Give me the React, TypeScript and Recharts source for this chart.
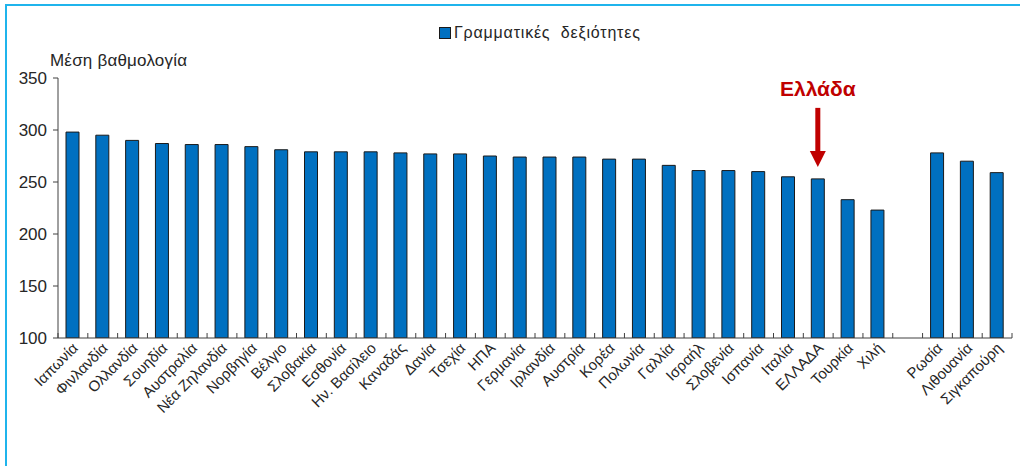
import { BarChart, Bar, XAxis, YAxis, LabelList } from 'recharts';

// ── Data ────────────────────────────────────────────────────
const countries = [
  'Ιαπωνία', 'Φινλανδία', 'Ολλανδία', 'Σουηδία', 'Αυστραλία', 'Νέα Ζηλανδία',
  'Νορβηγία', 'Βέλγιο', 'Σλοβακία', 'Εσθονία', 'Ην. Βασίλειο', 'Καναδάς',
  'Δανία', 'Τσεχία', 'ΗΠΑ', 'Γερμανία', 'Ιρλανδία', 'Αυστρία', 'Κορέα',
  'Πολωνία', 'Γαλλία', 'Ισραήλ', 'Σλοβενία', 'Ισπανία', 'Ιταλία', 'ΕΛΛΑΔΑ',
  'Τουρκία', 'Χιλή', '', 'Ρωσία', 'Λιθουανία', 'Σιγκαπούρη',
];
const scores: (number | null)[] = [
  298, 295, 290, 287, 286, 286,
  284, 281, 279, 279, 279, 278,
  277, 277, 275, 274, 274, 274, 272,
  272, 266, 261, 261, 260, 255, 253,
  233, 223, null, 278, 270, 259,
];
const yTicks = [100, 150, 200, 250, 300, 350];
const highlight = 'ΕΛΛΑΔΑ';

const data = countries.map((c, i) => ({ name: c, score: scores[i] }));

// ── Style ───────────────────────────────────────────────────
const FONT = "'Liberation Sans', Arial, sans-serif";
const BAR_FILL = '#0070c0';
const AXIS = '#404040';
const TEXT = '#262626';
const RED = '#c00000';
const W = 1020;
const H = 466;
const LEFT = 58;
const RIGHT = 8;
const BAND = (W - LEFT - RIGHT) / countries.length;

function CountryTick(props: any) {
  const { x, y, payload, index } = props;
  const lx = x - BAND / 2;
  const rx = x + BAND / 2;
  const tx = x + 6;
  const ty = y + 11;
  return (
    <g>
      <line x1={lx} x2={lx} y1={y} y2={y - 5} stroke={AXIS} />
      {index === countries.length - 1 && <line x1={rx} x2={rx} y1={y} y2={y - 5} stroke={AXIS} />}
      {payload.value && (
        <text x={tx} y={ty} textAnchor="end" fontSize={15} fontFamily={FONT} fill={TEXT}
          transform={`rotate(-45 ${tx} ${ty})`}>
          {payload.value}
        </text>
      )}
    </g>
  );
}

function GreeceMarker(props: any) {
  const { x, y, width, value } = props;
  if (value !== highlight) return null;
  const cx = x + width / 2;
  const tip = y - 12;
  return (
    <g>
      <rect x={cx - 2.5} y={tip - 59} width={5} height={45} fill={RED} />
      <polygon points={`${cx - 8},${tip - 16} ${cx + 8},${tip - 16} ${cx},${tip}`} fill={RED} />
      <text x={cx} y={tip - 71} textAnchor="middle" fontSize={21} fontWeight="bold" fontFamily={FONT} fill={RED}>
        Ελλάδα
      </text>
    </g>
  );
}

export default function App() {
  return (
    <div style={{ position: 'fixed', left: 0, top: 0, width: W, height: H, overflow: 'hidden', background: '#fff', fontFamily: FONT }}>
      <div style={{ position: 'absolute', left: 5, top: 4, width: W + 20, height: H + 20, borderLeft: '2px solid #1fb4ec', borderTop: '2px solid #1fb4ec' }} />
      <div style={{ position: 'absolute', left: 439, top: 24, display: 'flex', alignItems: 'center', gap: 3, fontSize: 16, color: TEXT }}>
        <span style={{ width: 10, height: 10, background: BAR_FILL, border: '1px solid #1a1a1a', display: 'inline-block' }} />
        <span style={{ letterSpacing: 0.8 }}>Γραμματικές&nbsp; δεξιότητες</span>
      </div>
      <div style={{ position: 'absolute', left: 50, top: 51, fontSize: 17, color: TEXT, letterSpacing: 0.2 }}>Μέση βαθμολογία</div>
      <div style={{ position: 'absolute', left: 0, top: 0 }}>
        <BarChart width={W} height={H} data={data} margin={{ top: 78, right: RIGHT, bottom: 98, left: 0 }} barCategoryGap={0}>
          <XAxis dataKey="name" interval={0} height={30} tick={<CountryTick />} tickLine={false} tickSize={0} tickMargin={0}
            axisLine={{ stroke: AXIS }} />
          <YAxis width={LEFT} domain={[100, 350]} ticks={yTicks} allowDataOverflow
            tick={{ fontSize: 17, fontFamily: FONT, fill: TEXT }} tickSize={5} tickMargin={6}
            tickLine={{ stroke: AXIS }} axisLine={{ stroke: AXIS }} />
          <Bar dataKey="score" fill={BAR_FILL} stroke="#1a1a1a" strokeWidth={1} barSize={13} isAnimationActive={false}>
            <LabelList dataKey="name" content={<GreeceMarker />} />
          </Bar>
        </BarChart>
      </div>
    </div>
  );
}
